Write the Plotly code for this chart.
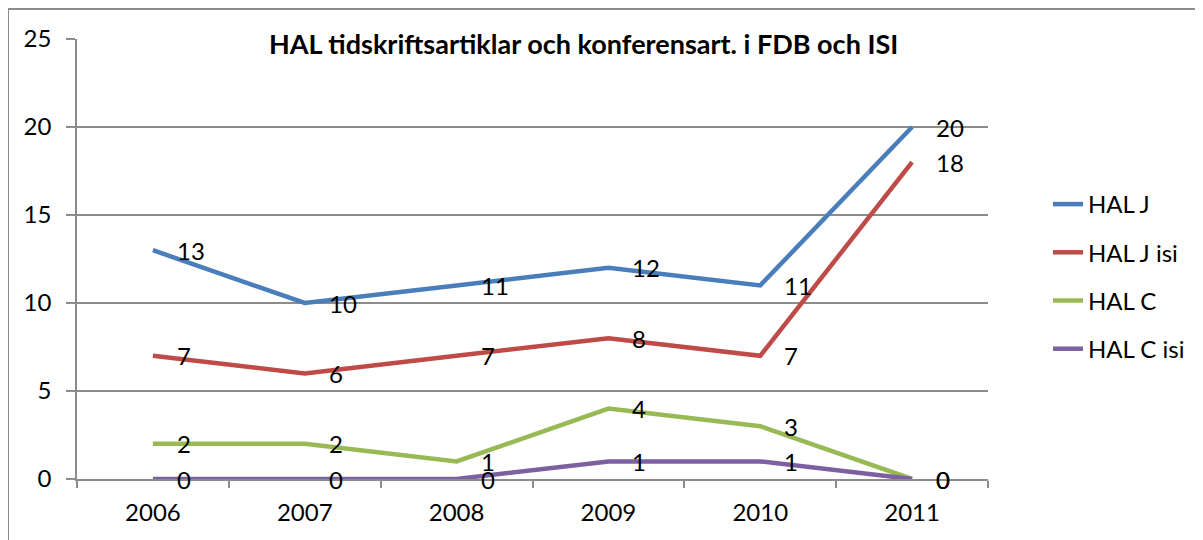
import plotly.graph_objects as go

years = ["2006", "2007", "2008", "2009", "2010", "2011"]
hal_j = [13, 10, 11, 12, 11, 20]
hal_j_isi = [7, 6, 7, 8, 7, 18]
hal_c = [2, 2, 1, 4, 3, 0]
hal_c_isi = [0, 0, 0, 1, 1, 0]

series_names = ["HAL J", "HAL J isi", "HAL C", "HAL C isi"]
series_values = [hal_j, hal_j_isi, hal_c, hal_c_isi]
colors = ["#4A7EBB", "#BE4B48", "#98B954", "#7D60A0"]

title_text = "HAL tidskriftsartiklar och konferensart. i FDB och ISI"
FONT = "Lato"
FS = 24

# the page body adds an 8px offset; work in screen pixels
OFF = 8
W, H = 1203, 540
SL, SR, ST, SB = 77, 988, 39, 479  # plot area on screen
L, T = SL - OFF, ST - OFF
R, B = W - (SR - OFF), H - (SB - OFF)
pw, ph = SR - SL, SB - ST


def px(x):
    return (x - SL) / pw


def py(y):
    return (SB - y) / ph


fig = go.Figure()
annotations = []
for i, (name, vals) in enumerate(zip(series_names, series_values)):
    fig.add_trace(go.Scatter(
        x=years, y=vals, name=name, mode="lines",
        line=dict(color=colors[i], width=4.5),
        legendgroup=name,
    ))
    for k, v in enumerate(vals):
        annotations.append(dict(
            x=k, y=v, xref="x", yref="y", text=str(v), showarrow=False,
            xanchor="left", yanchor="middle", xshift=22, yshift=0,
            font=dict(family=FONT, size=FS, color="black"),
        ))

fig.update_layout(
    width=W, height=H,
    margin=dict(l=L, r=R, t=T, b=B),
    paper_bgcolor="white", plot_bgcolor="white",
    font=dict(family=FONT, size=FS, color="black"),
    showlegend=True,
    legend=dict(
        x=px(1048), y=py(182), xanchor="left", yanchor="top",
        font=dict(family=FONT, size=FS, color="black"),
        tracegroupgap=14, bgcolor="rgba(0,0,0,0)",
    ),
    annotations=annotations + [dict(
        x=px(583), y=py(44), xref="paper", yref="paper",
        text="<b>" + title_text + "</b>", showarrow=False,
        xanchor="center", yanchor="middle",
        font=dict(family=FONT, size=27, color="black"),
    )],
    shapes=[
        dict(type="line", xref="paper", yref="paper",
             x0=px(8), x1=px(W + 20), y0=py(9), y1=py(9),
             line=dict(color="#8C8C8C", width=2)),
        dict(type="line", xref="paper", yref="paper",
             x0=px(8), x1=px(8), y0=py(9), y1=py(H + 20),
             line=dict(color="#8C8C8C", width=2)),
    ],
)

fig.update_xaxes(
    type="category", tickson="boundaries", range=[-0.5, 5.5],
    showgrid=False, showline=True, linecolor="#8C8C8C", linewidth=1.5,
    ticks="outside", ticklen=7, tickcolor="#8C8C8C", tickwidth=1.5,
    ticklabelstandoff=11, tickfont=dict(family=FONT, size=FS),
)
fig.update_yaxes(
    range=[0, 25], dtick=5, tick0=0,
    showgrid=True, gridcolor="#8C8C8C", gridwidth=1.5,
    showline=True, linecolor="#8C8C8C", linewidth=1.5,
    ticks="outside", ticklen=9, tickcolor="#8C8C8C", tickwidth=1.5,
    ticklabelstandoff=10, zeroline=False,
    tickfont=dict(family=FONT, size=FS),
)

fig.write_html("out.html")
